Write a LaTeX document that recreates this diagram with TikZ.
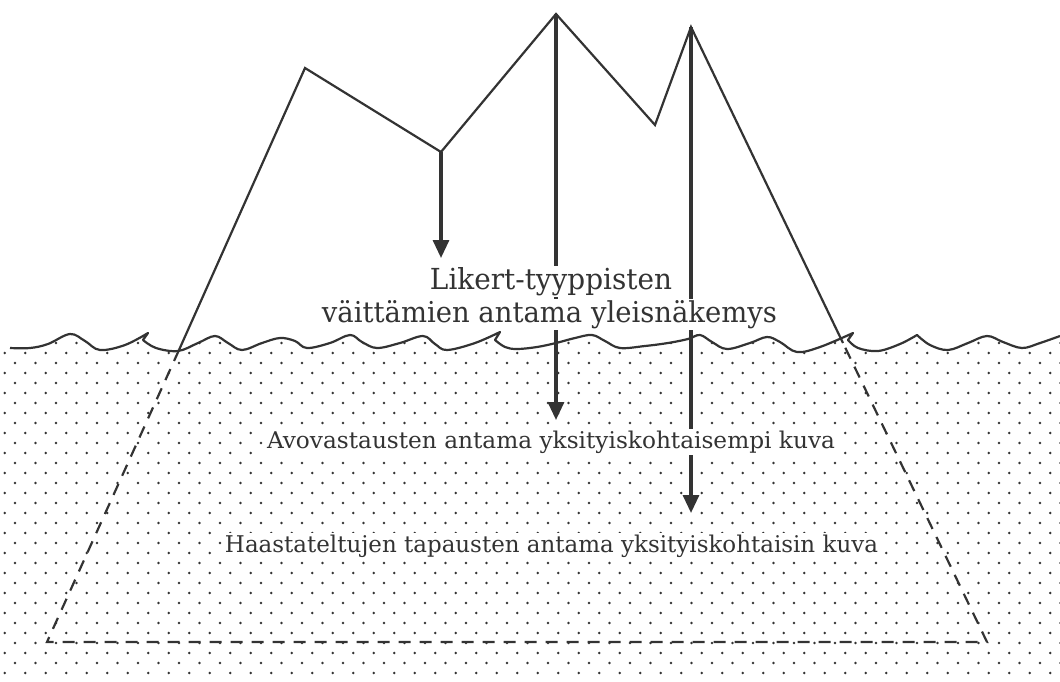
\documentclass[tikz,border=0pt]{standalone}
\usepackage{fontspec}
\newfontfamily\lab{DejaVu Serif}
\usetikzlibrary{arrows.meta}
\definecolor{ink}{HTML}{333333}
\newcommand\wavepts{--plot[smooth,tension=0.6] coordinates{(10,348) (30,348) (48,344) (70,334) (85,341) (100,350) (125,345) (148,333)}
 --plot[smooth,tension=0.6] coordinates{(143,340) (156,348) (178,351) (198,343) (215,336) (228,343) (242,350) (262,343) (280,338) (295,341) (307,348) (330,343) (350,335) (362,342) (377,348) (400,343) (423,336) (435,344) (447,350) (475,343) (500,332)}
 --plot[smooth,tension=0.6] coordinates{(495,340) (505,347) (517,349) (537,347) (556,343) (575,338) (592,335) (605,341) (620,348) (645,346) (668,343) (688,339) (700,335) (712,342) (727,349) (750,343) (767,337) (780,342) (797,352) (820,347) (853,333)}
 --plot[smooth,tension=0.6] coordinates{(848,340) (858,348) (878,351) (900,344) (917,335)}
 --plot[smooth,tension=0.6] coordinates{(917,335) (930,345) (948,350) (968,343) (987,336) (1003,342) (1022,348) (1040,343) (1060,336)}}
\begin{document}
\begin{tikzpicture}[x=1pt,y=-1pt,
  outline/.style={draw=ink,line width=2.2pt,line join=miter},
  under/.style={draw=ink,line width=2.2pt,dash pattern=on 12pt off 9pt},
  wave/.style={draw=ink,line width=2.2pt,line join=round},
  arr/.style={draw=ink,line width=3.2pt,-{Triangle[width=16pt,length=18pt]}},
  lbl/.style={fill=white,inner sep=1.5pt,anchor=base,text=ink},
]
\useasboundingbox (0,0) rectangle (1060,681);
% dotted water
\begin{scope}
\clip (0,348) \wavepts -- (1060,681) -- (0,681) -- cycle;
\foreach \k in {0,...,33} {
  \pgfmathsetmacro\yy{343+10*\k}
  \pgfmathsetmacro\off{mod(\k+1,2)*10.25}
  \foreach \i in {0,...,51} {
    \fill[ink] ({4.75+\off+20.5*\i},\yy) circle (1.35);
  }
}
\end{scope}
% water surface
\draw[wave] (10,348) \wavepts;
% iceberg
\coordinate (wl) at (179,350);
\coordinate (a) at (305,68);
\coordinate (b) at (441,152);
\coordinate (c) at (556,14);
\coordinate (d) at (655,125);
\coordinate (e) at (691,27);
\coordinate (wr) at (843,343);
\coordinate (bl) at (47,642);
\coordinate (br) at (987,642);
\draw[outline] (wl) -- (a) -- (b) -- (c) -- (d) -- (e) -- (wr);
\draw[under] (wl) -- (bl) -- (br) -- (wr);
% arrows
\coordinate (t1) at (441,258);
\coordinate (t2) at (556,420);
\coordinate (t3) at (691,513);
\draw[arr] (b) -- (t1);
\draw[arr] (c) -- (t2);
\draw[arr] (e) -- (t3);
% labels
\node[lbl] (l1) at (551,289) {\resizebox{242pt}{22pt}{\lab Likert-tyyppisten}};
\node[lbl] (l2) at (549.5,322) {\resizebox{455pt}{22pt}{\lab väittämien antama yleisnäkemys}};
\node[lbl] (l3) at (551,448) {\resizebox{568pt}{17.5pt}{\lab Avovastausten antama yksityiskohtaisempi kuva}};
\node[lbl] (l4) at (551.5,552) {\resizebox{653pt}{17.5pt}{\lab Haastateltujen tapausten antama yksityiskohtaisin kuva}};
\end{tikzpicture}
\end{document}
